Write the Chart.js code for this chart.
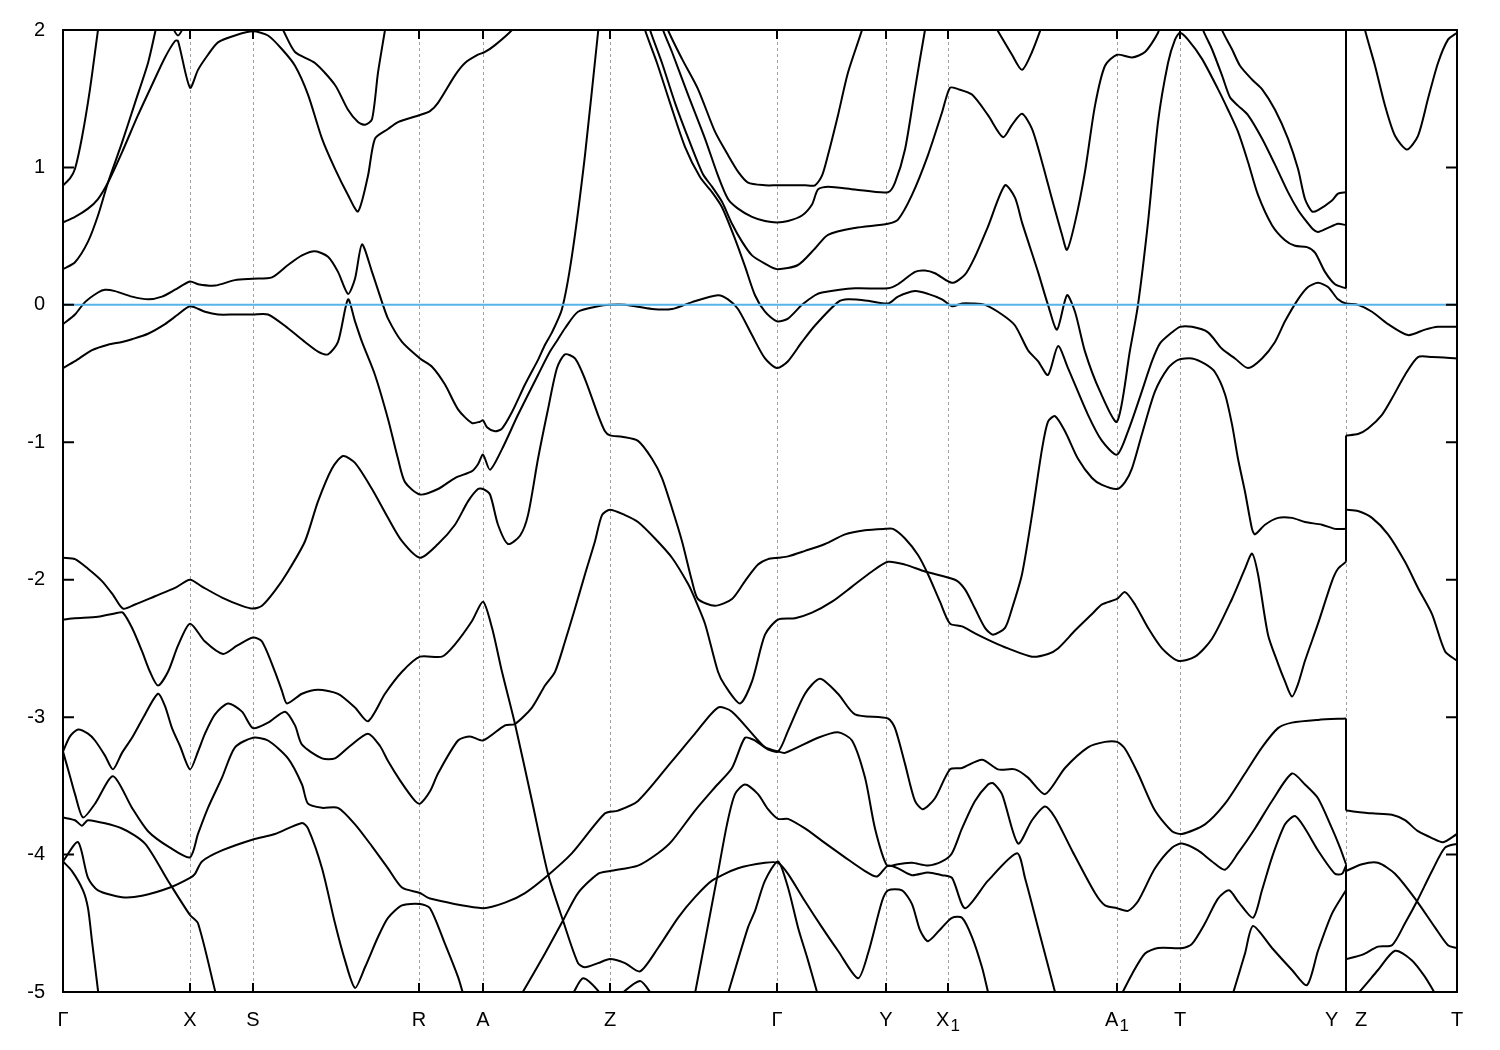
<!DOCTYPE html>
<html>
<head>
<meta charset="utf-8">
<script src="https://cdn.jsdelivr.net/npm/chart.js@4.4.1/dist/chart.umd.min.js"></script>
<style>
  html, body { margin: 0; padding: 0; background: #fff; }
  canvas { display: block; }
</style>
</head>
<body>
<canvas id="bands" width="1500" height="1050"></canvas>
<script>
// k-path: high symmetry points (path length, arbitrary units) and their labels
// "_" marks a subscript
const kTicks = [0, 1.27, 1.90, 3.56, 4.20, 5.47, 7.14, 8.23, 8.85, 10.54, 11.17, 12.83, 13.94];
const kLabels = ['Γ', 'X', 'S', 'R', 'A', 'Z', 'Γ', 'Y', 'X_1', 'A_1', 'T', 'Y   Z', 'T'];
const energyTicks = [-5, -4, -3, -2, -1, 0, 1, 2];
const fermiLevel = 0;

// band lines, [k, E in eV]
// two points with the same k = jump at the Y|Z break
const bandA = [[0,0.87],[0.07,0.92],[0.12,0.99],[0.19,1.22],[0.27,1.57],[0.35,2.0],[0.37,2.09]];
const bandB = [[0,0.26],[0.12,0.31],[0.25,0.46],[0.35,0.65],[0.45,0.89],[0.59,1.18],[0.72,1.47],[0.85,1.76],[0.92,1.98],[0.95,2.09]];
const bandC = [[0,0.60],[0.12,0.64],[0.25,0.70],[0.35,0.77],[0.45,0.89],[0.59,1.11],[0.75,1.38],[0.89,1.60],[1.02,1.80],[1.12,1.92],[1.15,1.92],[1.27,1.58],[1.35,1.71],[1.45,1.82],[1.55,1.91],[1.72,1.96],[1.90,1.99],[2.05,1.96],[2.19,1.86],[2.32,1.74],[2.45,1.53],[2.59,1.21],[2.72,0.99],[2.85,0.80],[2.95,0.68],[3.05,0.94],[3.12,1.21],[3.25,1.28],[3.35,1.33],[3.56,1.38],[3.67,1.41],[3.75,1.47],[3.92,1.67],[4.02,1.76],[4.15,1.82],[4.22,1.84],[4.32,1.89],[4.49,2.0],[4.55,2.07]];
const bandD = [[1.05,2.09],[1.15,1.96],[1.25,2.09]];
const bandE = [[2.15,2.06],[2.20,2.0],[2.32,1.84],[2.52,1.76],[2.72,1.60],[2.85,1.42],[2.95,1.33],[3.02,1.31],[3.09,1.35],[3.15,1.69],[3.22,2.0],[3.24,2.09]];
const bandF = [[0,-0.14],[0.12,-0.07],[0.22,0.02],[0.35,0.09],[0.42,0.11],[0.52,0.10],[0.69,0.06],[0.85,0.04],[0.99,0.06],[1.12,0.11],[1.27,0.17],[1.35,0.15],[1.52,0.14],[1.72,0.18],[1.90,0.19],[2.09,0.20],[2.25,0.29],[2.39,0.36],[2.52,0.39],[2.65,0.35],[2.75,0.24],[2.85,0.08],[2.92,0.19],[2.99,0.44],[3.09,0.24],[3.19,0.02],[3.25,-0.10],[3.39,-0.27],[3.57,-0.39],[3.69,-0.45],[3.82,-0.58],[3.95,-0.76],[4.09,-0.86],[4.17,-0.85],[4.20,-0.84],[4.24,-0.89],[4.32,-0.92],[4.39,-0.90],[4.49,-0.78],[4.62,-0.58],[4.75,-0.40],[4.82,-0.29],[4.89,-0.20],[4.99,-0.03],[5.09,0.36],[5.22,1.09],[5.35,1.98],[5.37,2.09]];
const bandG = [[0,-0.46],[0.12,-0.41],[0.29,-0.33],[0.45,-0.29],[0.59,-0.27],[0.69,-0.25],[0.85,-0.21],[1.02,-0.14],[1.15,-0.07],[1.27,-0.01],[1.42,-0.05],[1.55,-0.07],[1.72,-0.07],[1.90,-0.07],[2.05,-0.07],[2.25,-0.17],[2.42,-0.27],[2.55,-0.34],[2.65,-0.36],[2.75,-0.27],[2.85,0.04],[2.92,-0.12],[2.99,-0.27],[3.12,-0.51],[3.25,-0.83],[3.35,-1.12],[3.42,-1.29],[3.57,-1.38],[3.75,-1.34],[3.92,-1.26],[4.09,-1.21],[4.15,-1.16],[4.20,-1.09],[4.27,-1.20],[4.39,-1.05],[4.55,-0.80],[4.75,-0.51],[4.87,-0.34],[4.95,-0.25],[5.02,-0.17],[5.15,-0.05],[5.35,-0.01],[5.47,0.0],[5.62,0.0],[5.89,-0.03],[6.09,-0.03],[6.29,0.02],[6.55,0.07],[6.65,0.04],[6.75,-0.03],[6.89,-0.22],[7.02,-0.39],[7.14,-0.46],[7.25,-0.41],[7.39,-0.27],[7.52,-0.15],[7.75,0.02],[7.85,0.04],[8.05,0.03],[8.25,0.01],[8.35,0.06],[8.52,0.10],[8.65,0.08],[8.79,0.04],[8.89,-0.01],[8.99,0.01],[9.09,0.01],[9.22,0.0],[9.39,-0.07],[9.52,-0.15],[9.65,-0.33],[9.75,-0.41],[9.85,-0.51],[9.95,-0.30],[10.05,-0.46],[10.25,-0.80],[10.39,-0.99],[10.54,-1.09],[10.65,-0.92],[10.77,-0.67],[10.89,-0.41],[10.97,-0.28],[11.09,-0.20],[11.17,-0.16],[11.29,-0.16],[11.45,-0.20],[11.59,-0.32],[11.72,-0.39],[11.85,-0.46],[11.99,-0.39],[12.12,-0.27],[12.22,-0.12],[12.35,0.04],[12.45,0.13],[12.55,0.16],[12.65,0.13],[12.75,0.04],[12.83,0.01],[12.95,0.0],[13.09,-0.05],[13.25,-0.14],[13.45,-0.22],[13.62,-0.18],[13.75,-0.16],[13.94,-0.16]];
const bandH = [[0,-1.84],[0.12,-1.85],[0.25,-1.92],[0.39,-2.01],[0.50,-2.11],[0.60,-2.21],[0.72,-2.18],[0.92,-2.12],[1.12,-2.06],[1.27,-2.00],[1.39,-2.05],[1.59,-2.13],[1.79,-2.19],[1.90,-2.21],[1.99,-2.19],[2.12,-2.08],[2.25,-1.94],[2.42,-1.72],[2.55,-1.43],[2.69,-1.19],[2.80,-1.10],[2.92,-1.15],[3.09,-1.34],[3.25,-1.55],[3.39,-1.72],[3.57,-1.84],[3.75,-1.74],[3.92,-1.60],[4.05,-1.43],[4.15,-1.34],[4.20,-1.34],[4.27,-1.38],[4.35,-1.60],[4.45,-1.74],[4.57,-1.68],[4.65,-1.53],[4.75,-1.12],[4.85,-0.76],[4.94,-0.46],[5.02,-0.36],[5.12,-0.39],[5.22,-0.54],[5.35,-0.80],[5.42,-0.92],[5.47,-0.95],[5.59,-0.96],[5.75,-0.99],[5.89,-1.12],[5.99,-1.26],[6.09,-1.48],[6.19,-1.72],[6.29,-2.01],[6.35,-2.14],[6.52,-2.19],[6.69,-2.14],[6.82,-2.01],[6.95,-1.89],[7.05,-1.85],[7.15,-1.84],[7.25,-1.83],[7.42,-1.79],[7.62,-1.74],[7.82,-1.67],[8.02,-1.64],[8.22,-1.63],[8.30,-1.63],[8.42,-1.70],[8.55,-1.82],[8.65,-1.96],[8.77,-2.16],[8.87,-2.32],[8.99,-2.34],[9.12,-2.39],[9.29,-2.45],[9.45,-2.50],[9.69,-2.56],[9.85,-2.54],[9.95,-2.50],[10.12,-2.37],[10.29,-2.25],[10.39,-2.18],[10.54,-2.14],[10.62,-2.09],[10.72,-2.18],[10.85,-2.35],[10.99,-2.50],[11.15,-2.59],[11.32,-2.56],[11.49,-2.43],[11.69,-2.14],[11.82,-1.92],[11.89,-1.81],[11.95,-1.96],[12.05,-2.40],[12.15,-2.61],[12.22,-2.74],[12.29,-2.85],[12.35,-2.76],[12.42,-2.59],[12.55,-2.32],[12.69,-2.01],[12.75,-1.92],[12.83,-1.87],[12.83,-1.49],[12.95,-1.50],[13.09,-1.55],[13.25,-1.67],[13.42,-1.87],[13.55,-2.06],[13.69,-2.25],[13.82,-2.52],[13.94,-2.59]];
const bandI = [[0,-2.29],[0.12,-2.28],[0.35,-2.27],[0.55,-2.24],[0.60,-2.24],[0.69,-2.35],[0.79,-2.52],[0.87,-2.67],[0.95,-2.77],[1.05,-2.67],[1.15,-2.48],[1.27,-2.32],[1.42,-2.45],[1.60,-2.54],[1.74,-2.48],[1.90,-2.42],[1.99,-2.45],[2.12,-2.67],[2.19,-2.81],[2.24,-2.90],[2.39,-2.83],[2.55,-2.80],[2.75,-2.83],[2.92,-2.93],[3.05,-3.03],[3.22,-2.83],[3.39,-2.67],[3.57,-2.56],[3.79,-2.56],[3.92,-2.47],[4.09,-2.30],[4.20,-2.16],[4.29,-2.35],[4.39,-2.67],[4.52,-3.05],[4.69,-3.61],[4.85,-4.14],[5.00,-4.48],[5.15,-4.79],[5.22,-4.82],[5.35,-4.79],[5.47,-4.76],[5.62,-4.79],[5.77,-4.85],[5.95,-4.68],[6.15,-4.46],[6.32,-4.31],[6.49,-4.19],[6.75,-4.10],[7.02,-4.06],[7.15,-4.06],[7.25,-4.14],[7.42,-4.34],[7.59,-4.53],[7.75,-4.70],[7.95,-4.90],[8.05,-4.72],[8.19,-4.34],[8.25,-4.26],[8.39,-4.26],[8.49,-4.36],[8.57,-4.55],[8.65,-4.63],[8.79,-4.53],[8.89,-4.46],[8.99,-4.46],[9.09,-4.60],[9.19,-4.82],[9.25,-5.0],[9.27,-5.06]];
const bandJ = [[0,-3.25],[0.07,-3.14],[0.15,-3.09],[0.25,-3.12],[0.32,-3.17],[0.42,-3.28],[0.50,-3.38],[0.59,-3.26],[0.69,-3.15],[0.82,-2.98],[0.95,-2.83],[1.02,-2.92],[1.09,-3.08],[1.17,-3.21],[1.27,-3.38],[1.35,-3.25],[1.42,-3.12],[1.52,-2.98],[1.65,-2.90],[1.79,-2.96],[1.90,-3.08],[2.05,-3.04],[2.22,-2.96],[2.32,-3.06],[2.39,-3.20],[2.59,-3.30],[2.72,-3.30],[2.87,-3.21],[3.05,-3.12],[3.17,-3.21],[3.25,-3.32],[3.37,-3.46],[3.52,-3.61],[3.57,-3.63],[3.67,-3.54],[3.75,-3.41],[3.95,-3.17],[4.07,-3.14],[4.20,-3.17],[4.42,-3.06],[4.52,-3.05],[4.69,-2.93],[4.82,-2.77],[4.92,-2.67],[5.02,-2.45],[5.12,-2.21],[5.22,-1.96],[5.32,-1.72],[5.39,-1.53],[5.47,-1.49],[5.62,-1.53],[5.75,-1.58],[5.92,-1.70],[6.09,-1.84],[6.25,-2.03],[6.32,-2.14],[6.42,-2.32],[6.55,-2.67],[6.62,-2.77],[6.77,-2.90],[6.89,-2.74],[7.02,-2.40],[7.15,-2.29],[7.32,-2.28],[7.49,-2.24],[7.69,-2.16],[7.89,-2.05],[8.09,-1.94],[8.25,-1.87],[8.42,-1.89],[8.62,-1.94],[8.92,-2.00],[9.02,-2.07],[9.12,-2.21],[9.22,-2.35],[9.30,-2.40],[9.42,-2.35],[9.49,-2.21],[9.59,-1.96],[9.69,-1.53],[9.79,-1.05],[9.85,-0.85],[9.92,-0.81],[10.02,-0.92],[10.15,-1.12],[10.29,-1.26],[10.39,-1.31],[10.54,-1.34],[10.62,-1.29],[10.69,-1.19],[10.79,-0.94],[10.92,-0.63],[11.05,-0.46],[11.15,-0.40],[11.29,-0.39],[11.42,-0.43],[11.52,-0.49],[11.62,-0.65],[11.69,-0.87],[11.75,-1.12],[11.82,-1.36],[11.89,-1.63],[11.92,-1.67],[12.02,-1.60],[12.15,-1.55],[12.29,-1.55],[12.42,-1.58],[12.59,-1.60],[12.72,-1.63],[12.83,-1.63],[12.83,-0.95],[12.95,-0.94],[13.05,-0.90],[13.19,-0.80],[13.29,-0.68],[13.42,-0.51],[13.55,-0.38],[13.69,-0.38],[13.94,-0.39]];
const bandK = [[0,-3.25],[0.07,-3.43],[0.12,-3.56],[0.20,-3.73],[0.32,-3.63],[0.50,-3.43],[0.69,-3.66],[0.85,-3.83],[1.07,-3.95],[1.27,-4.02],[1.35,-3.85],[1.45,-3.66],[1.59,-3.44],[1.72,-3.22],[1.90,-3.15],[2.05,-3.17],[2.25,-3.30],[2.39,-3.49],[2.45,-3.63],[2.59,-3.66],[2.75,-3.66],[2.92,-3.78],[3.09,-3.94],[3.25,-4.10],[3.39,-4.24],[3.57,-4.28],[3.67,-4.32],[4.20,-4.39],[4.42,-4.35],[4.62,-4.28],[4.85,-4.15],[5.09,-3.99],[5.42,-3.70],[5.55,-3.68],[5.75,-3.61],[6.09,-3.32],[6.32,-3.12],[6.55,-2.93],[6.69,-2.96],[7.02,-3.22],[7.15,-3.25],[7.25,-3.10],[7.42,-2.83],[7.57,-2.72],[7.75,-2.83],[7.92,-2.98],[8.25,-3.01],[8.32,-3.08],[8.42,-3.34],[8.52,-3.61],[8.60,-3.67],[8.72,-3.59],[8.87,-3.38],[8.99,-3.37],[9.19,-3.31],[9.35,-3.38],[9.52,-3.38],[9.65,-3.44],[9.82,-3.56],[10.02,-3.37],[10.25,-3.22],[10.42,-3.18],[10.54,-3.18],[10.62,-3.23],[10.75,-3.41],[10.92,-3.68],[11.09,-3.83],[11.19,-3.85],[11.42,-3.78],[11.62,-3.63],[11.82,-3.41],[11.99,-3.22],[12.15,-3.08],[12.29,-3.04],[12.55,-3.02],[12.83,-3.01],[12.83,-3.68],[13.09,-3.70],[13.29,-3.71],[13.42,-3.75],[13.55,-3.83],[13.69,-3.88],[13.80,-3.91],[13.94,-3.85]];
const bandL = [[0,-3.73],[0.12,-3.75],[0.19,-3.79],[0.25,-3.75],[0.59,-3.81],[0.82,-3.92],[1.05,-4.19],[1.27,-4.44],[1.35,-4.50],[1.52,-4.99],[1.54,-5.06]];
const bandM = [[0,-4.05],[0.15,-3.91],[0.25,-4.17],[0.35,-4.26],[0.59,-4.31],[0.79,-4.30],[1.07,-4.24],[1.27,-4.17],[1.32,-4.14],[1.39,-4.05],[1.59,-3.97],[1.90,-3.89],[2.12,-3.85],[2.39,-3.77],[2.45,-3.81],[2.59,-4.10],[2.72,-4.50],[2.82,-4.77],[2.92,-4.97],[3.02,-4.82],[3.15,-4.60],[3.25,-4.46],[3.39,-4.37],[3.57,-4.36],[3.67,-4.39],[3.82,-4.65],[3.95,-4.89],[4.00,-5.01]];
const bandN = [[0,-4.05],[0.09,-4.12],[0.20,-4.26],[0.25,-4.39],[0.29,-4.63],[0.35,-4.99],[0.36,-5.06]];
const bandO = [[6.32,-5.01],[6.42,-4.63],[6.54,-4.17],[6.64,-3.78],[6.72,-3.56],[6.82,-3.49],[6.95,-3.56],[7.05,-3.67],[7.15,-3.74],[7.25,-3.74],[7.42,-3.81],[7.59,-3.90],[7.82,-4.02],[8.02,-4.12],[8.14,-4.16],[8.25,-4.08],[8.35,-4.10],[8.49,-4.15],[8.65,-4.13],[8.79,-4.15],[8.89,-4.17],[9.02,-4.39],[9.25,-4.19],[9.54,-3.99],[9.62,-4.17],[9.75,-4.53],[9.92,-5.00],[9.94,-5.06]];
const bandP = [[4.59,-5.01],[4.82,-4.72],[5.00,-4.48],[5.15,-4.28],[5.35,-4.14],[5.47,-4.12],[5.75,-4.08],[5.95,-3.99],[6.09,-3.90],[6.32,-3.68],[6.52,-3.51],[6.69,-3.37],[6.82,-3.15],[6.92,-3.17],[7.02,-3.22],[7.15,-3.25],[7.22,-3.26],[7.55,-3.15],[7.75,-3.11],[7.89,-3.17],[8.02,-3.44],[8.12,-3.81],[8.24,-4.08],[8.35,-4.07],[8.49,-4.06],[8.65,-4.08],[8.79,-4.05],[8.89,-3.99],[8.99,-3.81],[9.12,-3.61],[9.25,-3.49],[9.30,-3.48],[9.39,-3.56],[9.55,-3.92],[9.69,-3.75],[9.82,-3.65],[9.92,-3.73],[10.09,-3.97],[10.32,-4.28],[10.42,-4.37],[10.54,-4.39],[10.65,-4.41],[10.75,-4.34],[10.92,-4.10],[11.09,-3.95],[11.19,-3.92],[11.35,-3.97],[11.49,-4.05],[11.62,-4.11],[11.75,-3.99],[11.92,-3.81],[12.09,-3.61],[12.29,-3.41],[12.42,-3.49],[12.55,-3.59],[12.69,-3.81],[12.77,-3.95],[12.83,-4.07],[12.83,-4.12],[12.99,-4.07],[13.15,-4.06],[13.32,-4.14],[13.54,-4.34],[13.72,-4.53],[13.85,-4.66],[13.94,-4.68]];
const bandQ = [[6.65,-5.01],[6.85,-4.53],[6.92,-4.41],[7.02,-4.19],[7.15,-4.05],[7.25,-4.24],[7.35,-4.53],[7.45,-4.77],[7.54,-5.00],[7.56,-5.06]];
const bandR = [[10.59,-5.01],[10.69,-4.87],[10.82,-4.72],[10.95,-4.68],[11.20,-4.68],[11.29,-4.65],[11.42,-4.50],[11.55,-4.32],[11.66,-4.26],[11.75,-4.34],[11.90,-4.46],[11.99,-4.26],[12.09,-4.02],[12.22,-3.78],[12.32,-3.72],[12.42,-3.81],[12.55,-3.97],[12.72,-4.14],[12.79,-4.14],[12.83,-4.08],[12.83,-4.76],[12.99,-4.73],[13.15,-4.67],[13.29,-4.66],[13.42,-4.50],[13.54,-4.34],[13.69,-4.12],[13.82,-3.95],[13.94,-3.92]];
const bandS = [[11.70,-5.01],[11.82,-4.72],[11.90,-4.52],[12.09,-4.68],[12.29,-4.84],[12.44,-4.95],[12.55,-4.70],[12.69,-4.43],[12.83,-4.26],[12.83,-5.06]];
const bandT = [[12.87,-5.06],[12.95,-5.01],[13.15,-4.84],[13.32,-4.70],[13.49,-4.77],[13.62,-4.89],[13.72,-5.01],[13.77,-5.06]];
const bandU = [[5.05,-5.06],[5.10,-5.01],[5.20,-4.90],[5.35,-4.99],[5.39,-5.06]];
const bandV = [[5.55,-5.06],[5.59,-5.01],[5.77,-4.92],[5.87,-5.0],[5.90,-5.06]];
const bandW = [[6.02,2.09],[6.05,2.0],[6.19,1.79],[6.35,1.57],[6.52,1.26],[6.65,1.09],[6.75,0.97],[6.85,0.89],[7.02,0.87],[7.14,0.87],[7.42,0.87],[7.52,0.87],[7.59,0.94],[7.65,1.09],[7.75,1.38],[7.85,1.69],[7.99,2.0],[8.02,2.09]];
const bandX = [[5.97,2.09],[6.0,2.0],[6.09,1.84],[6.25,1.53],[6.42,1.21],[6.55,0.94],[6.65,0.77],[6.75,0.70],[6.89,0.64],[7.02,0.61],[7.14,0.60],[7.25,0.61],[7.39,0.65],[7.49,0.73],[7.55,0.84],[7.65,0.86],[7.92,0.84],[8.25,0.82],[8.32,0.89],[8.42,1.13],[8.52,1.57],[8.62,2.0],[8.65,2.09]];
const bandY = [[5.84,2.09],[5.87,2.0],[5.99,1.76],[6.12,1.47],[6.27,1.18],[6.40,0.95],[6.49,0.86],[6.59,0.75],[6.69,0.59],[6.79,0.46],[6.89,0.36],[7.02,0.30],[7.14,0.26],[7.35,0.29],[7.52,0.41],[7.65,0.51],[7.92,0.56],[8.25,0.59],[8.35,0.62],[8.49,0.80],[8.65,1.09],[8.79,1.40],[8.87,1.58],[8.95,1.57],[9.09,1.53],[9.25,1.38],[9.40,1.22],[9.49,1.31],[9.59,1.39],[9.69,1.28],[9.79,1.04],[9.89,0.77],[9.99,0.51],[10.04,0.40],[10.12,0.60],[10.22,0.97],[10.32,1.45],[10.42,1.74],[10.54,1.82],[10.69,1.80],[10.82,1.84],[10.95,1.98],[10.99,2.09]];
const bandZ = [[5.79,2.09],[5.82,2.0],[5.94,1.76],[6.07,1.47],[6.22,1.15],[6.37,0.93],[6.49,0.82],[6.59,0.71],[6.72,0.48],[6.82,0.28],[6.92,0.07],[7.02,-0.05],[7.14,-0.12],[7.25,-0.10],[7.39,0.0],[7.52,0.07],[7.59,0.09],[7.92,0.12],[8.25,0.12],[8.35,0.15],[8.52,0.24],[8.62,0.25],[8.72,0.23],[8.89,0.16],[9.02,0.22],[9.12,0.35],[9.25,0.57],[9.42,0.87],[9.52,0.78],[9.59,0.60],[9.75,0.24],[9.85,0.0],[9.94,-0.18],[10.04,0.07],[10.12,-0.05],[10.22,-0.34],[10.37,-0.63],[10.54,-0.85],[10.67,-0.33],[10.75,0.0],[10.85,0.60],[10.95,1.33],[11.05,1.76],[11.12,1.93],[11.17,1.98],[11.25,1.93],[11.39,1.79],[11.55,1.57],[11.65,1.42],[11.75,1.26],[11.85,1.04],[11.95,0.80],[12.09,0.58],[12.22,0.47],[12.32,0.43],[12.44,0.42],[12.52,0.38],[12.62,0.24],[12.72,0.15],[12.83,0.12],[12.83,2.09]];
const bandAA = [[11.37,2.09],[11.40,2.0],[11.49,1.86],[11.59,1.67],[11.67,1.51],[11.75,1.45],[11.85,1.38],[11.99,1.21],[12.12,1.02],[12.25,0.82],[12.35,0.69],[12.42,0.62],[12.50,0.55],[12.55,0.53],[12.65,0.56],[12.75,0.59],[12.83,0.58],[12.83,2.09]];
const bandAB = [[11.57,2.09],[11.59,2.0],[11.69,1.86],[11.77,1.74],[11.89,1.64],[11.99,1.57],[12.12,1.42],[12.25,1.21],[12.35,0.99],[12.42,0.77],[12.49,0.68],[12.55,0.69],[12.69,0.76],[12.75,0.81],[12.83,0.82],[12.83,2.09]];
const bandAC = [[13.0,2.09],[13.02,2.0],[13.12,1.74],[13.22,1.45],[13.32,1.23],[13.44,1.13],[13.55,1.23],[13.65,1.50],[13.75,1.76],[13.85,1.93],[13.94,1.98]];
const bandAD = [[9.27,2.09],[9.49,1.82],[9.59,1.71],[9.69,1.84],[9.82,2.09]];

const allBands = [bandA, bandB, bandC, bandD, bandE, bandF, bandG, bandH, bandI, bandJ, bandK, bandL,
  bandM, bandN, bandO, bandP, bandQ, bandR, bandS, bandT, bandU, bandV, bandW, bandX, bandY, bandZ,
  bandAA, bandAB, bandAC, bandAD];

function lineSet(points, tension) {
  return { data: points, borderColor: '#000', borderWidth: 2, pointRadius: 0, tension: tension, fill: false };
}

// fermi level first so it is drawn on top
const datasets = [{
  data: [{ x: kTicks[0], y: fermiLevel }, { x: kTicks[kTicks.length - 1], y: fermiLevel }],
  borderColor: 'rgb(86,180,233)', borderWidth: 2, pointRadius: 0, tension: 0, fill: false
}];

allBands.forEach(band => {
  let piece = [];
  band.forEach(([k, e]) => {
    const last = piece[piece.length - 1];
    if (last && last.x === k) {
      // break at Y|Z: close the piece and draw the jump as a straight segment
      datasets.push(lineSet(piece, 0.25));
      datasets.push(lineSet([last, { x: k, y: e }], 0));
      piece = [{ x: k, y: e }];
    } else {
      piece.push({ x: k, y: e });
    }
  });
  if (piece.length > 1) datasets.push(lineSet(piece, 0.25));
});

const fontFamily = '"Liberation Sans", Arial, sans-serif';

// frame, inward tick marks and k-point labels (with subscripts), gnuplot style
const framePlugin = {
  id: 'frame',
  afterDatasetsDraw(chart) {
    const { ctx, chartArea: a, scales } = chart;
    ctx.save();
    ctx.strokeStyle = '#000';
    ctx.lineWidth = 2;
    ctx.beginPath();
    kTicks.slice(1, -1).forEach(k => {
      const px = scales.x.getPixelForValue(k);
      ctx.moveTo(px, a.bottom); ctx.lineTo(px, a.bottom - 9);
      ctx.moveTo(px, a.top); ctx.lineTo(px, a.top + 9);
    });
    energyTicks.forEach(e => {
      const py = scales.y.getPixelForValue(e);
      ctx.moveTo(a.left, py); ctx.lineTo(a.left + 11, py);
      ctx.moveTo(a.right, py); ctx.lineTo(a.right - 11, py);
    });
    ctx.stroke();
    ctx.strokeRect(a.left, a.top, a.right - a.left, a.bottom - a.top);

    ctx.fillStyle = '#000';
    ctx.textBaseline = 'alphabetic';
    ctx.textAlign = 'left';
    const base = a.bottom + 34;
    kTicks.forEach((k, i) => {
      const [main, sub] = kLabels[i].split('_');
      ctx.font = '20px ' + fontFamily;
      const wMain = ctx.measureText(main).width;
      ctx.font = '17px ' + fontFamily;
      const wSub = sub ? ctx.measureText(sub).width + 1 : 0;
      const x0 = scales.x.getPixelForValue(k) - (wMain + wSub) / 2;
      ctx.font = '20px ' + fontFamily;
      ctx.fillText(main, x0, base);
      if (sub) {
        ctx.font = '17px ' + fontFamily;
        ctx.fillText(sub, x0 + wMain + 1, base + 5);
      }
    });
    ctx.restore();
  }
};

const labelFont = { family: fontFamily, size: 20 };

new Chart(document.getElementById('bands'), {
  type: 'line',
  data: { datasets: datasets },
  options: {
    responsive: false,
    animation: false,
    events: [],
    layout: { padding: { top: 28, right: 43, bottom: 0, left: 0 } },
    plugins: { legend: { display: false }, tooltip: { enabled: false } },
    scales: {
      x: {
        type: 'linear',
        min: kTicks[0],
        max: kTicks[kTicks.length - 1],
        afterBuildTicks: s => { s.ticks = kTicks.map(v => ({ value: v })); },
        afterFit: s => { s.height = 58; },
        ticks: { display: false },
        grid: {
          drawTicks: false,
          lineWidth: 1,
          color: c => (c.index === 0 || c.index === kTicks.length - 1) ? 'rgba(0,0,0,0)' : '#a0a0a0'
        },
        border: { display: false, dash: [3, 3] }
      },
      y: {
        type: 'linear',
        min: -5,
        max: 2,
        afterBuildTicks: s => { s.ticks = energyTicks.map(v => ({ value: v })); },
        afterFit: s => { s.width = 63; },
        ticks: { padding: 18, color: '#000', font: labelFont, callback: v => String(v) },
        grid: { display: false, drawTicks: false },
        border: { display: false }
      }
    }
  },
  plugins: [framePlugin]
});
</script>
</body>
</html>
